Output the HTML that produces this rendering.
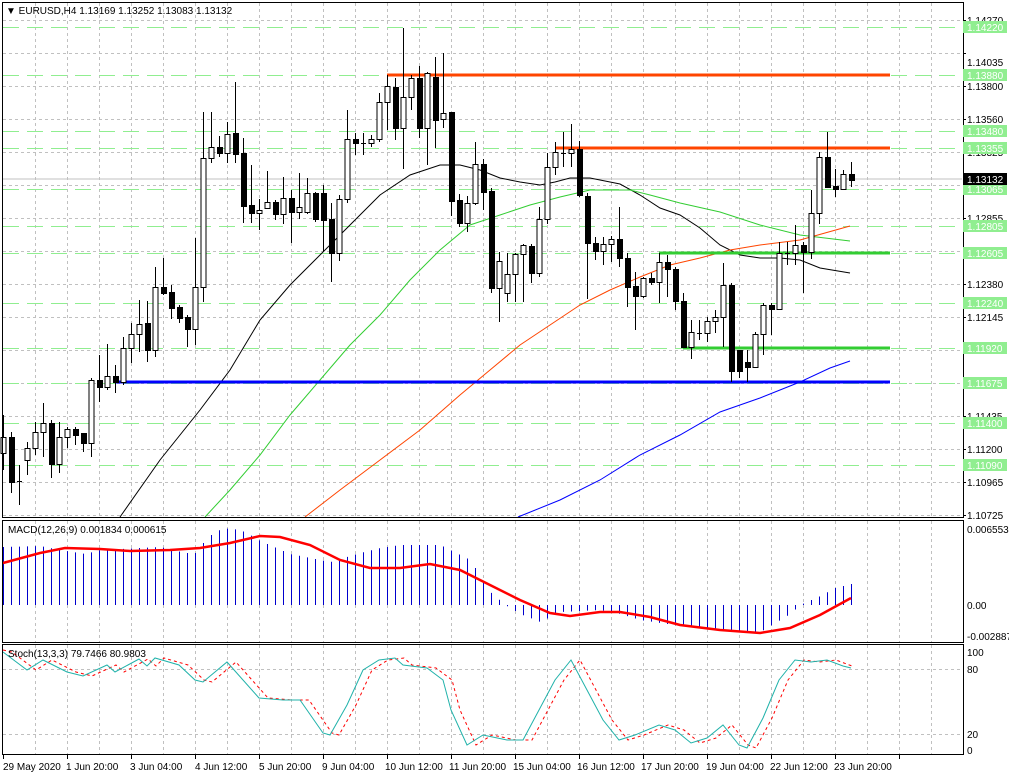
<!DOCTYPE html>
<html><head><meta charset="utf-8"><style>
body{margin:0;background:#fff;width:1009px;height:778px;overflow:hidden;font-family:"Liberation Sans",sans-serif}
svg{position:absolute;left:0;top:0}
text{font-family:"Liberation Sans",sans-serif;font-size:10px}
</style></head><body>
<svg id="s" width="1009" height="778" xmlns="http://www.w3.org/2000/svg">
<rect width="1009" height="778" fill="#fff"/>
<g id="grid"></g>
<g id="lvl"></g>
<line x1="3" y1="179" x2="962" y2="179" stroke="#c0c0c0" stroke-width="1"/>
<g id="ma"></g>
<g id="hl"></g>
<g id="cd"></g>
<g id="macd"></g>
<g id="sto"></g>
<g fill="none" stroke="#000" stroke-width="1">
<rect x="2.5" y="2.5" width="961" height="515"/>
<rect x="2.5" y="520.5" width="961" height="122"/>
<rect x="2.5" y="644.5" width="961" height="110"/>
</g>
<g id="ax"></g>
<text x="6" y="14" font-size="10">▼ EURUSD,H4  1.13169 1.13252 1.13083 1.13132</text>
<text x="8" y="533">MACD(12,26,9) 0.001834 0.000615</text>
<text x="8" y="657">Stoch(13,3,3) 79.7466 80.9803</text>
<g font-size="10" fill="#000">
<text x="967" y="24">1.14270</text><text x="967" y="66">1.14035</text><text x="967" y="90">1.13800</text>
<text x="967" y="123">1.13560</text><text x="967" y="156">1.13325</text><text x="967" y="222">1.12855</text>
<text x="967" y="288">1.12380</text><text x="967" y="321">1.12145</text><text x="967" y="420">1.11435</text>
<text x="967" y="453">1.11200</text><text x="967" y="486">1.10965</text><text x="967" y="519">1.10725</text>
<text x="967" y="533">0.006553</text><text x="967" y="609">0.00</text><text x="967" y="640">-0.002887</text>
<text x="967" y="656">100</text><text x="967" y="673">80</text><text x="967" y="738">20</text><text x="967" y="754">0</text>
</g>
<g id="gl"></g>
<rect x="963" y="173" width="44" height="12" fill="#000"/>
<text x="967" y="183" fill="#fff">1.13132</text>
<g font-size="10" fill="#000">
<text x="3" y="770">29 May 2020</text><text x="66" y="770">1 Jun 20:00</text><text x="130" y="770">3 Jun 04:00</text>
<text x="195" y="770">4 Jun 12:00</text><text x="259" y="770">5 Jun 20:00</text><text x="322" y="770">9 Jun 04:00</text>
<text x="385" y="770">10 Jun 12:00</text><text x="449" y="770">11 Jun 20:00</text><text x="513" y="770">15 Jun 04:00</text>
<text x="577" y="770">16 Jun 12:00</text><text x="641" y="770">17 Jun 20:00</text><text x="706" y="770">19 Jun 04:00</text>
<text x="770" y="770">22 Jun 12:00</text><text x="834" y="770">23 Jun 20:00</text>
</g>
</svg>
<script>
var NS="http://www.w3.org/2000/svg";
function el(p,t,a){var e=document.createElementNS(NS,t);for(var k in a)e.setAttribute(k,a[k]);document.getElementById(p).appendChild(e);return e;}
// grid
for(var x=35;x<963;x+=32){el('grid','line',{x1:x+.5,y1:3,x2:x+.5,y2:517,stroke:'#c0c0c0','stroke-dasharray':'3,3'});
el('grid','line',{x1:x+.5,y1:521,x2:x+.5,y2:642,stroke:'#c0c0c0','stroke-dasharray':'3,3'});
el('grid','line',{x1:x+.5,y1:645,x2:x+.5,y2:754,stroke:'#c0c0c0','stroke-dasharray':'3,3'});}
for(var y=20;y<517;y+=33)el('grid','line',{x1:3,y1:y+.5,x2:962,y2:y+.5,stroke:'#c0c0c0','stroke-dasharray':'3,3'});
[669,734].forEach(function(y){el('grid','line',{x1:3,y1:y+.5,x2:962,y2:y+.5,stroke:'#c0c0c0','stroke-dasharray':'3,3'});});
// ticks
[20,53,86,119,152,185,218,251,284,317,350,383,416,449,482,515].forEach(function(y){el('ax','line',{x1:963,y1:y+.5,x2:966,y2:y+.5,stroke:'#000'});});
for(var x=3;x<963;x+=64)el('ax','line',{x1:x+.5,y1:755,x2:x+.5,y2:759,stroke:'#000'});
// green levels
var lv=[[27,'1.14220'],[75,'1.13880'],[131,'1.13480'],[148,'1.13355'],[189,'1.13065'],[226,'1.12805'],[253,'1.12605'],[303,'1.12240'],[348,'1.11920'],[383,'1.11675'],[423,'1.11400'],[465,'1.11090']];
lv.forEach(function(l){el('lvl','line',{x1:3,y1:l[0]+.5,x2:962,y2:l[0]+.5,stroke:'#90ee90','stroke-dasharray':'16,8'});
el('gl','rect',{x:963,y:l[0]-6,width:44,height:12,fill:'#90ee90'});
var t=el('gl','text',{x:967,y:l[0]+4,fill:'#fff'});t.textContent=l[1];});
// MAs
function pl(g,pts,c,w,d){var a={points:pts.map(function(p){return p.join(',')}).join(' '),fill:'none',stroke:c,'stroke-width':w||1};if(d)a['stroke-dasharray']=d;el(g,'polyline',a);}
pl('ma',[[120,517],[160,460],[200,410],[230,370],[260,320],[290,285],[320,255],[350,225],[380,195],[410,175],[440,165],[460,165],[480,170],[500,178],[520,182],[540,185],[555,182],[570,178],[590,178],[600,180],[620,184],[640,195],[660,208],[680,215],[700,228],[720,245],[740,255],[760,258],[780,258],[800,260],[820,268],[850,273]],'#000');
pl('ma',[[205,517],[230,490],[260,455],[290,415],[320,380],[350,345],[380,315],[410,280],[440,250],[470,225],[500,215],[530,205],[560,197],[590,190],[610,190],[630,190],[650,195],[680,203],[720,212],[760,225],[800,235],[850,241]],'#32cd32');
pl('ma',[[305,517],[340,490],[380,460],[420,430],[460,395],[490,370],[520,345],[550,325],[580,305],[610,290],[640,277],[670,265],[700,258],[730,250],[760,245],[800,240],[850,226]],'#ff4500');
pl('ma',[[518,517],[560,500],[600,480],[640,455],[680,435],[720,412],[760,398],[800,382],[830,368],[850,361]],'#0000ff');
// h lines
[[387,75,'#ff4500'],[555,148,'#ff4500'],[659,253,'#32cd32'],[683,348,'#32cd32'],[115,382,'#0000ff']].forEach(function(h){el('hl','line',{x1:h[0],y1:h[1],x2:890,y2:h[1],stroke:h[2],'stroke-width':3});});
// candles O,C,H,L (y px)
var C=[[453,437,415,470],[437,482,432,493],[481,481,465,505],[460,448,442,475],[448,432,422,455],[432,423,403,457],[423,464,420,478],[464,437,422,473],[437,429,427,448],[429,435,427,445],[433,443,433,452],[443,380,378,457],[380,387,355,402],[387,376,344,390],[376,382,365,393],[382,348,337,385],[348,334,323,363],[334,324,300,352],[323,350,301,362],[350,287,267,357],[287,293,258,295],[292,308,285,319],[307,318,305,323],[317,329,315,347],[329,287,238,345],[287,158,112,302],[158,147,112,163],[147,153,136,157],[153,134,122,163],[133,154,82,163],[153,206,138,223],[205,213,165,223],[213,210,199,230],[208,202,171,209],[202,214,200,220],[214,198,177,224],[198,212,190,243],[212,207,173,219],[212,193,178,214],[193,219,192,222],[193,220,185,252],[219,253,203,282],[253,199,195,261],[199,139,110,203],[139,143,133,155],[143,143,133,155],[143,139,135,147],[139,102,93,142],[102,86,75,130],[87,128,78,140],[128,97,28,169],[97,78,75,110],[78,128,66,138],[128,73,72,165],[77,120,57,148],[119,113,53,128],[112,201,112,216],[200,223,194,227],[223,203,196,232],[203,164,142,205],[164,192,159,210],[191,288,188,293],[288,261,252,322],[293,274,253,302],[274,254,253,302],[254,245,244,302],[246,273,244,283],[273,219,207,277],[219,167,153,224],[167,152,142,175],[153,153,132,167],[153,149,124,167],[149,195,141,197],[196,243,193,299],[243,251,237,260],[251,244,237,265],[244,239,236,262],[239,258,207,267],[258,287,253,307],[286,296,272,330],[296,278,277,298],[278,282,273,285],[282,262,253,303],[262,269,255,297],[269,301,267,310],[301,347,293,348],[347,332,320,359],[333,333,320,340],[333,321,317,342],[321,317,310,333],[317,285,263,347],[285,371,283,382],[350,371,350,378],[362,367,350,382],[367,334,332,368],[334,305,303,355],[305,309,303,335],[309,253,242,310],[253,253,242,265],[253,245,225,265],[245,252,242,293],[252,213,190,259],[213,157,152,224],[157,187,132,188],[186,189,169,197],[189,174,170,190],[174,180,162,187]];
C.forEach(function(c,i){var x=3+8*i;el('cd','line',{x1:x+.5,y1:c[2],x2:x+.5,y2:c[3],stroke:'#000'});
var t=Math.min(c[0],c[1]),b=Math.max(c[0],c[1]);
if(b-t<1){el('cd','line',{x1:x-2,y1:t+.5,x2:x+3,y2:t+.5,stroke:'#000'});}
else if(c[1]<c[0])el('cd','rect',{x:x-2,y:t+.5,width:5,height:b-t,fill:'#fff',stroke:'#000'});
else el('cd','rect',{x:x-2,y:t,width:6,height:b-t+1,fill:'#000'});});
// MACD histogram
function interp(pts,x){for(var i=0;i<pts.length-1;i++){if(x>=pts[i][0]&&x<=pts[i+1][0]){var f=(x-pts[i][0])/(pts[i+1][0]-pts[i][0]);return pts[i][1]+f*(pts[i+1][1]-pts[i][1]);}}return pts[pts.length-1][1];}
var H=[[3,547],[40,546],[60,550],[85,554],[100,550],[140,548],[160,547],[185,553],[195,553],[203,543],[215,531],[230,528],[245,532],[260,541],[290,554],[330,562],[360,553],[380,548],[400,545],[440,545],[470,560],[490,592],[505,605],[520,614],[540,622],[560,612],[600,610],[620,614],[640,620],[680,626],[720,630],[760,632],[790,614],[800,605],[820,596],[835,588],[851,584]];
for(var i=0;i<107;i++){var x=3+8*i,y=interp(H,x);el('macd','line',{x1:x+.5,y1:605,x2:x+.5,y2:y,stroke:'#0000cd'});}
pl('macd',[[3,563],[40,553],[65,548],[100,549],[130,551],[170,550],[200,548],[230,543],[260,536],[280,537],[310,545],[340,560],[370,568],[400,568],[430,564],[460,570],[490,585],[520,600],[550,613],[570,616],[600,612],[620,612],[650,617],[680,625],[720,630],[760,633],[790,628],[820,615],[851,598]],'#ff0000',2.5);
// stochastic
var S=[[3,652],[27,670],[43,660],[67,672],[83,676],[107,665],[115,672],[139,659],[147,666],[155,658],[179,665],[195,680],[203,682],[227,662],[259,698],[283,700],[300,700],[323,733],[330,735],[347,705],[363,670],[379,660],[395,658],[403,665],[427,668],[443,680],[451,710],[467,745],[475,740],[483,735],[507,740],[523,740],[539,710],[555,680],[571,660],[587,690],[603,720],[619,740],[635,735],[659,725],[675,730],[691,743],[707,738],[723,725],[739,745],[747,748],[763,718],[779,680],[795,660],[811,662],[827,660],[843,666],[851,668]];
var D=S.map(function(p){return [p[0]+9,p[1]];});D.unshift([3,650]);D[D.length-1][0]=851;
pl('sto',D,'#ff0000',1,'3,3');
pl('sto',S,'#20b2aa',1);
</script>
</body></html>
